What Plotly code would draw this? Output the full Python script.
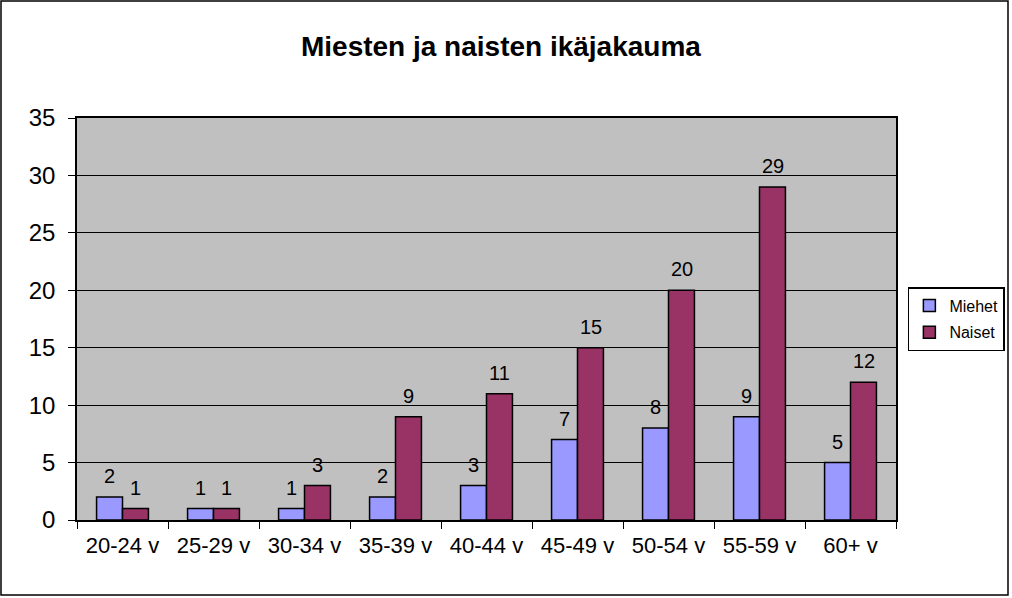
import plotly.graph_objects as go

categories = ['20-24 v', '25-29 v', '30-34 v', '35-39 v', '40-44 v',
              '45-49 v', '50-54 v', '55-59 v', '60+ v']
miehet = [2, 1, 1, 2, 3, 7, 8, 9, 5]
naiset = [1, 1, 3, 9, 11, 15, 20, 29, 12]

fig = go.Figure()
fig.add_trace(go.Bar(x=categories, y=miehet, name='Miehet', legendgroup='m',
                     marker=dict(color='#9999FF', line=dict(color='black', width=1.5))))
fig.add_trace(go.Bar(x=categories, y=naiset, name='Naiset', legendgroup='n',
                     marker=dict(color='#993366', line=dict(color='black', width=1.5))))

# data labels above each bar (half bar width = 13 px)
annotations = []
for vals, shift in [(miehet, -13), (naiset, 13)]:
    for cat, v in zip(categories, vals):
        annotations.append(dict(x=cat, y=v, text=str(v), showarrow=False,
                                xshift=shift, yshift=8, yanchor='bottom',
                                font=dict(size=20, color='black')))

# plot area 77..896 x 118..520 px
fig.update_layout(
    width=1012, height=598, autosize=False,
    margin=dict(l=77, r=116, t=118, b=78, autoexpand=False),
    paper_bgcolor='white', plot_bgcolor='#C0C0C0',
    font=dict(family='Arial, Liberation Sans', color='black'),
    title=dict(text='<b>Miesten ja naisten ikäjakauma</b>', x=0.495, xref='container',
               y=0.923, yref='container', xanchor='center', yanchor='middle',
               font=dict(size=28)),
    barmode='group', bargap=0.43, bargroupgap=0,
    showlegend=True,
    legend=dict(x=1.0145, xanchor='left', y=0.5, yanchor='middle',
                bgcolor='white', bordercolor='black', borderwidth=1.5,
                font=dict(size=16), tracegroupgap=3, itemwidth=30),
    xaxis=dict(showline=True, linecolor='black', linewidth=1.5, ticks='outside',
               ticklen=7, tickcolor='black', tickson='boundaries',
               tickfont=dict(size=22), mirror=True, ticklabelstandoff=5),
    yaxis=dict(range=[0, 35], dtick=5, showline=True, linecolor='black', linewidth=1.5,
               ticks='outside', ticklen=7, tickcolor='black', showgrid=True,
               gridcolor='black', gridwidth=1, tickfont=dict(size=24), mirror=True,
               zeroline=False, ticklabelstandoff=8),
    annotations=annotations,
    shapes=[dict(type='rect', xref='paper', yref='paper',
                 x0=(1 - 77) / 819, x1=(1008 - 77) / 819,
                 y0=(520 - 595) / 402, y1=(520 - 1) / 402,
                 line=dict(color='black', width=1.5))],
)

fig.write_html('out.html', config={'displayModeBar': False, 'responsive': False},
               post_script="document.body.style.margin='0';"
                           "document.body.style.overflow='hidden';")
